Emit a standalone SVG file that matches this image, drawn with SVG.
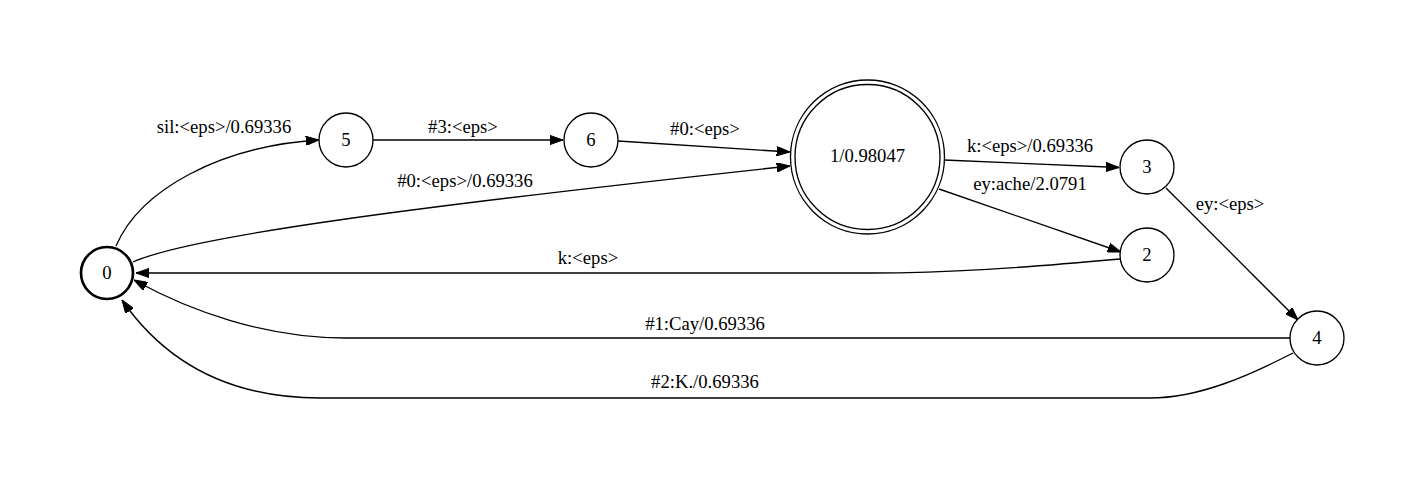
<svg xmlns="http://www.w3.org/2000/svg" width="1425" height="479" viewBox="0 0 1425 479">
<style>
.n{fill:#fff;stroke:#000;stroke-width:1.33}
.b{stroke-width:2.67}
.t{font-family:"Liberation Serif","Times New Roman",serif;font-size:18.67px;text-anchor:middle;fill:#000}
.e{fill:none;stroke:#000;stroke-width:1.33;marker-end:url(#ah)}
</style>
<defs>
<marker id="ah" markerUnits="userSpaceOnUse" viewBox="0 0 13.3 9.4" markerWidth="13.3" markerHeight="9.4" refX="13.3" refY="4.7" orient="auto">
<path d="M0,0 L13.3,4.7 L0,9.4 Z" fill="#000" stroke="#000" stroke-width="1"/>
</marker>
</defs>
<rect width="1425" height="479" fill="#fff"/>
<g id="edges">
<path class="e" d="M116,246 C140,190 220,146 319,140"/>
<text class="t" x="224" y="133">sil:&lt;eps&gt;/0.69336</text>
<path class="e" d="M373,140 L563,140"/>
<text class="t" x="463" y="133">#3:&lt;eps&gt;</text>
<path class="e" d="M618,141 L790,152"/>
<text class="t" x="705" y="135">#0:&lt;eps&gt;</text>
<path class="e" d="M133,262 C190,236 420,206 790,166"/>
<text class="t" x="465" y="187">#0:&lt;eps&gt;/0.69336</text>
<path class="e" d="M944,160 L1119,167.5"/>
<text class="t" x="1030" y="152">k:&lt;eps&gt;/0.69336</text>
<path class="e" d="M939,189 L1121,252"/>
<text class="t" x="1030" y="190">ey:ache/2.0791</text>
<path class="e" d="M1166,188 L1298,320"/>
<text class="t" x="1230" y="210">ey:&lt;eps&gt;</text>
<path class="e" d="M1120,259 C1020,268 950,273 870,273 L136,273"/>
<text class="t" x="588" y="264">k:&lt;eps&gt;</text>
<path class="e" d="M1290,338 L345,338 C265,338 190,311 134,280"/>
<text class="t" x="705" y="330">#1:Cay/0.69336</text>
<path class="e" d="M1293,353 C1250,375 1200,398 1150,398 L320,398 C220,398 160,355 122,300"/>
<text class="t" x="705" y="388">#2:K./0.69336</text>
</g>
<g id="node0"><circle class="n b" cx="107" cy="273" r="26"/><text class="t" x="107" y="279">0</text></g>
<g id="node5"><circle class="n" cx="346" cy="140" r="27"/><text class="t" x="346" y="146">5</text></g>
<g id="node6"><circle class="n" cx="591" cy="140" r="27"/><text class="t" x="591" y="146">6</text></g>
<g id="node1"><circle class="n" cx="867.5" cy="157" r="77"/><circle class="n" cx="867.5" cy="157" r="72.5"/><text class="t" x="867.5" y="162">1/0.98047</text></g>
<g id="node3"><circle class="n" cx="1147" cy="167" r="27"/><text class="t" x="1147" y="173">3</text></g>
<g id="node2"><circle class="n" cx="1147" cy="255" r="27"/><text class="t" x="1147" y="261">2</text></g>
<g id="node4"><circle class="n" cx="1317" cy="338" r="27"/><text class="t" x="1317" y="344">4</text></g>
</svg>
